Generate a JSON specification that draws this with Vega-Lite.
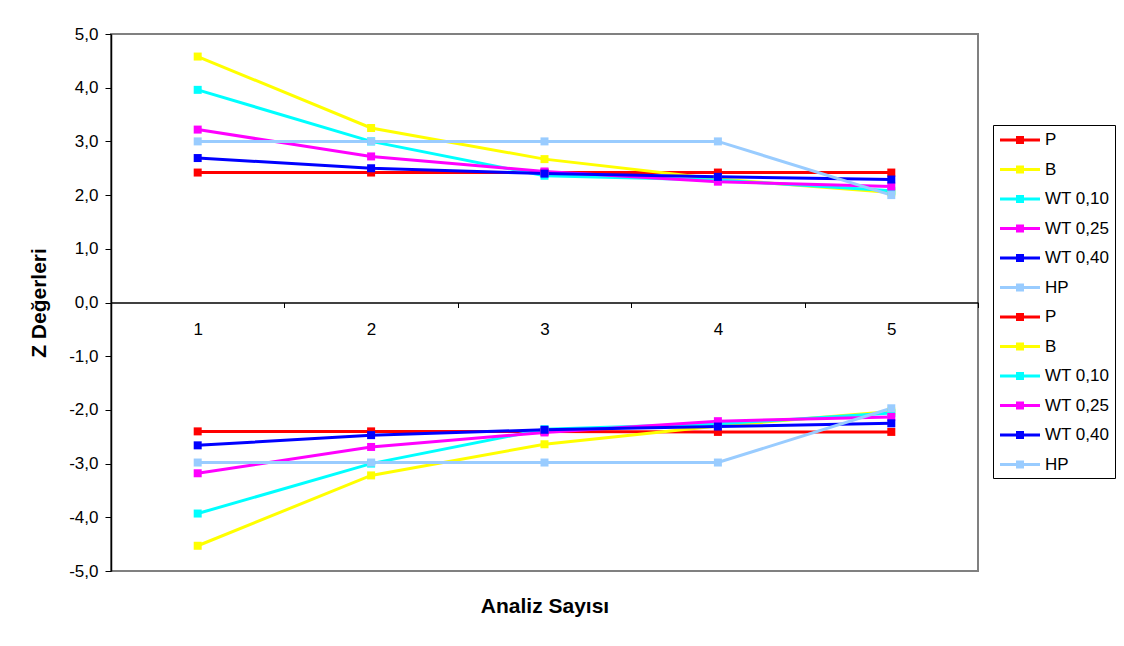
{
  "$schema": "https://vega.github.io/schema/vega-lite/v6.json",
  "width": 867,
  "height": 537,
  "autosize": {"type": "none"},
  "padding": {"left": 111, "top": 34, "right": 146, "bottom": 75},
  "background": "white",
  "config": {
    "font": "Liberation Sans",
    "view": {"stroke": "#808080", "strokeWidth": 2}
  },
  "data": {
    "values": [
      {"analiz": "1", "seri": "P (+)", "z": 2.42},
      {"analiz": "2", "seri": "P (+)", "z": 2.42},
      {"analiz": "3", "seri": "P (+)", "z": 2.42},
      {"analiz": "4", "seri": "P (+)", "z": 2.42},
      {"analiz": "5", "seri": "P (+)", "z": 2.42},
      {"analiz": "1", "seri": "B (+)", "z": 4.58},
      {"analiz": "2", "seri": "B (+)", "z": 3.25},
      {"analiz": "3", "seri": "B (+)", "z": 2.67},
      {"analiz": "4", "seri": "B (+)", "z": 2.3},
      {"analiz": "5", "seri": "B (+)", "z": 2.05},
      {"analiz": "1", "seri": "WT 0,10 (+)", "z": 3.96},
      {"analiz": "2", "seri": "WT 0,10 (+)", "z": 3.0},
      {"analiz": "3", "seri": "WT 0,10 (+)", "z": 2.36},
      {"analiz": "4", "seri": "WT 0,10 (+)", "z": 2.28},
      {"analiz": "5", "seri": "WT 0,10 (+)", "z": 2.08},
      {"analiz": "1", "seri": "WT 0,25 (+)", "z": 3.22},
      {"analiz": "2", "seri": "WT 0,25 (+)", "z": 2.72},
      {"analiz": "3", "seri": "WT 0,25 (+)", "z": 2.44},
      {"analiz": "4", "seri": "WT 0,25 (+)", "z": 2.25},
      {"analiz": "5", "seri": "WT 0,25 (+)", "z": 2.16},
      {"analiz": "1", "seri": "WT 0,40 (+)", "z": 2.69},
      {"analiz": "2", "seri": "WT 0,40 (+)", "z": 2.5},
      {"analiz": "3", "seri": "WT 0,40 (+)", "z": 2.4},
      {"analiz": "4", "seri": "WT 0,40 (+)", "z": 2.34},
      {"analiz": "5", "seri": "WT 0,40 (+)", "z": 2.29},
      {"analiz": "1", "seri": "HP (+)", "z": 3.0},
      {"analiz": "2", "seri": "HP (+)", "z": 3.0},
      {"analiz": "3", "seri": "HP (+)", "z": 3.0},
      {"analiz": "4", "seri": "HP (+)", "z": 3.0},
      {"analiz": "5", "seri": "HP (+)", "z": 2.0},
      {"analiz": "1", "seri": "P (-)", "z": -2.4},
      {"analiz": "2", "seri": "P (-)", "z": -2.4},
      {"analiz": "3", "seri": "P (-)", "z": -2.4},
      {"analiz": "4", "seri": "P (-)", "z": -2.41},
      {"analiz": "5", "seri": "P (-)", "z": -2.41},
      {"analiz": "1", "seri": "B (-)", "z": -4.53},
      {"analiz": "2", "seri": "B (-)", "z": -3.22},
      {"analiz": "3", "seri": "B (-)", "z": -2.64},
      {"analiz": "4", "seri": "B (-)", "z": -2.3},
      {"analiz": "5", "seri": "B (-)", "z": -2.03},
      {"analiz": "1", "seri": "WT 0,10 (-)", "z": -3.93},
      {"analiz": "2", "seri": "WT 0,10 (-)", "z": -3.0},
      {"analiz": "3", "seri": "WT 0,10 (-)", "z": -2.36},
      {"analiz": "4", "seri": "WT 0,10 (-)", "z": -2.26},
      {"analiz": "5", "seri": "WT 0,10 (-)", "z": -2.06},
      {"analiz": "1", "seri": "WT 0,25 (-)", "z": -3.18},
      {"analiz": "2", "seri": "WT 0,25 (-)", "z": -2.69},
      {"analiz": "3", "seri": "WT 0,25 (-)", "z": -2.42},
      {"analiz": "4", "seri": "WT 0,25 (-)", "z": -2.21},
      {"analiz": "5", "seri": "WT 0,25 (-)", "z": -2.13},
      {"analiz": "1", "seri": "WT 0,40 (-)", "z": -2.66},
      {"analiz": "2", "seri": "WT 0,40 (-)", "z": -2.47},
      {"analiz": "3", "seri": "WT 0,40 (-)", "z": -2.37},
      {"analiz": "4", "seri": "WT 0,40 (-)", "z": -2.31},
      {"analiz": "5", "seri": "WT 0,40 (-)", "z": -2.25},
      {"analiz": "1", "seri": "HP (-)", "z": -2.98},
      {"analiz": "2", "seri": "HP (-)", "z": -2.98},
      {"analiz": "3", "seri": "HP (-)", "z": -2.98},
      {"analiz": "4", "seri": "HP (-)", "z": -2.98},
      {"analiz": "5", "seri": "HP (-)", "z": -1.97}
    ]
  },
  "encoding": {
    "x": {
      "field": "analiz",
      "type": "ordinal",
      "scale": {"type": "band", "paddingInner": 0, "paddingOuter": 0},
      "axis": {
        "title": "Analiz Sayısı",
        "titleFont": "Liberation Sans",
        "titleFontSize": 21,
        "titleFontWeight": "bold",
        "titleColor": "black",
        "titleY": 293,
        "offset": -268.5,
        "labelAngle": 0,
        "labelFontSize": 17,
        "labelColor": "black",
        "labelPadding": 14,
        "tickBand": "extent",
        "tickSize": 5,
        "tickColor": "black",
        "domainColor": "black",
        "domainWidth": 1.5,
        "grid": false
      }
    },
    "y": {
      "field": "z",
      "type": "quantitative",
      "scale": {"domain": [-5, 5], "nice": false},
      "axis": {
        "title": "Z Değerleri",
        "titleFont": "Liberation Sans",
        "titleFontSize": 21,
        "titleFontWeight": "bold",
        "titleColor": "black",
        "titleX": -62,
        "values": [-5, -4, -3, -2, -1, 0, 1, 2, 3, 4, 5],
        "labelExpr": "replace(replace(format(datum.value, '.1f'), '.', ','), '\u2212', '-')",
        "labelFontSize": 17,
        "labelColor": "black",
        "labelPadding": 7,
        "tickSize": 6,
        "tickColor": "black",
        "domainColor": "black",
        "domainWidth": 1.5,
        "grid": false
      }
    },
    "color": {
      "field": "seri",
      "type": "nominal",
      "scale": {
        "domain": ["P (+)", "B (+)", "WT 0,10 (+)", "WT 0,25 (+)", "WT 0,40 (+)", "HP (+)", "P (-)", "B (-)", "WT 0,10 (-)", "WT 0,25 (-)", "WT 0,40 (-)", "HP (-)"],
        "range": ["#FF0000", "#FFFF00", "#00FFFF", "#FF00FF", "#0000FF", "#99CCFF", "#FF0000", "#FFFF00", "#00FFFF", "#FF00FF", "#0000FF", "#99CCFF"]
      },
      "legend": {
        "orient": "none",
        "legendX": 882,
        "legendY": 91,
        "title": null,
        "strokeColor": "black",
        "fillColor": "white",
        "padding": 5,
        "labelFont": "Liberation Sans",
        "labelFontSize": 17,
        "labelColor": "black",
        "labelExpr": "split(datum.label, ' (')[0]",
        "symbolType": "M -2 -0.15 L 2 -0.15 L 2 0.15 L -2 0.15 Z M -0.4 -0.4 L 0.4 -0.4 L 0.4 0.4 L -0.4 0.4 Z",
        "symbolSize": 400,
        "symbolOffset": 12,
        "symbolStrokeWidth": 0,
        "labelOffset": 15,
        "rowPadding": 11.5,
        "encode": {
          "symbols": {
            "update": {
              "fill": {"scale": "color", "field": "value"},
              "stroke": {"value": "transparent"},
              "opacity": {"value": 1},
              "fillOpacity": {"value": 1}
            }
          }
        }
      }
    }
  },
  "layer": [
    {"mark": {"type": "line", "strokeWidth": 3}},
    {"mark": {"type": "point", "shape": "square", "filled": true, "size": 64, "opacity": 1}}
  ]
}
